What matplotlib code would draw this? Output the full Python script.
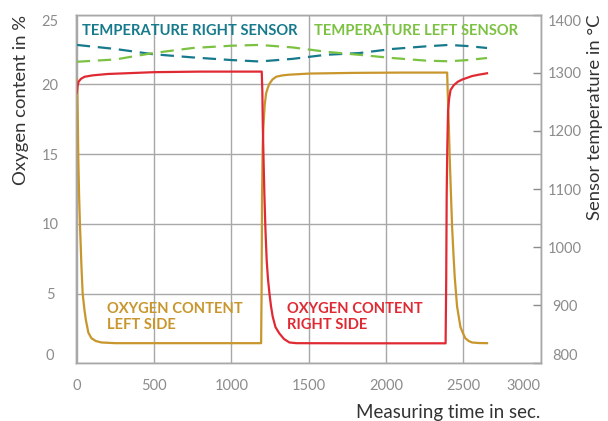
import matplotlib
matplotlib.use("Agg")
import matplotlib.pyplot as plt

plt.rcParams['font.family'] = ['Lato', 'DejaVu Sans']

# Oxygen content, left side (%)
o2_left_t = [0, 3, 6, 10, 15, 21, 30, 38, 50, 59, 75, 95, 124, 160, 250, 600, 900,
             1192, 1195, 1198, 1202, 1207, 1215, 1224, 1235, 1246, 1265, 1289, 1330,
             1375, 1504, 1800, 2100, 2395, 2400, 2406, 2412, 2427, 2436, 2444, 2459,
             2481, 2500, 2513, 2535, 2556, 2600, 2653]
o2_left = [20.4, 20.2, 18.0, 14.6, 12.0, 9.8, 7.0, 5.0, 3.8, 3.1, 2.2, 1.8, 1.6, 1.5,
           1.45, 1.45, 1.45, 1.45, 5.0, 12.0, 15.5, 17.0, 18.5, 19.35, 19.75, 20.05,
           20.35, 20.55, 20.65, 20.7, 20.78, 20.83, 20.85, 20.85, 19.0, 17.0, 14.6,
           9.8, 7.8, 6.2, 4.1, 2.6, 2.1, 1.8, 1.6, 1.5, 1.46, 1.45]

# Oxygen content, right side (%)
o2_right_t = [0, 5, 12, 27, 50, 102, 200, 317, 500, 800, 1196, 1200, 1203, 1208, 1213,
              1220, 1228, 1236, 1246, 1256, 1267, 1285, 1310, 1340, 1375, 1420, 1800,
              2385, 2389, 2392, 2396, 2401, 2408, 2417, 2438, 2465, 2492, 2556, 2600,
              2653]
o2_right = [19.4, 19.9, 20.2, 20.4, 20.55, 20.65, 20.75, 20.8, 20.88, 20.92, 20.92,
            19.5, 17.0, 14.5, 12.2, 9.6, 7.4, 6.1, 5.0, 4.1, 3.35, 2.6, 2.15, 1.75,
            1.5, 1.45, 1.44, 1.44, 6.0, 12.0, 15.5, 18.15, 19.0, 19.6, 19.95, 20.2,
            20.35, 20.6, 20.7, 20.8]

# Sensor temperatures (°C)
temp_t = [0, 250, 493, 750, 998, 1181, 1395, 1611, 1826, 2039, 2256, 2406, 2530, 2653]
temp_right = [1348, 1341, 1332, 1326.5, 1322, 1319.5, 1324, 1331, 1334, 1341, 1345.5,
              1348, 1346, 1342.7]
temp_left = [1319, 1323, 1334, 1342.7, 1346.6, 1348, 1343.7, 1336.3, 1331, 1325.5,
             1321, 1319.8, 1322, 1325.5]

x_ticks = [0, 500, 1000, 1500, 2000, 2500, 3000]
o2_ticks = [0, 5, 10, 15, 20, 25]
temp_ticks = [800, 900, 1000, 1100, 1200, 1300, 1400]

C_GOLD = '#c8962c'
C_RED = '#e02a33'
C_TEAL = '#167a8c'
C_GREEN = '#7cc242'
C_GRID = '#a8a8a8'
C_TICK = '#8c8c8c'
C_LABEL = '#333333'

fig = plt.figure(figsize=(6.08, 4.21), dpi=100)
ax = fig.add_axes([75.7 / 608, 1 - 363.4 / 421, 465.0 / 608, 348.7 / 421])
ax2 = ax.twinx()

ax.set_xlim(-7, 2993)
ax.set_ylim(0, 25)
ax2.set_ylim(800, 1400)

# grid
ax.set_xticks(x_ticks)
ax.set_yticks(o2_ticks)
ax.grid(True, color=C_GRID, linewidth=1.0)
ax.set_axisbelow(True)
for a in (ax, ax2):
    for s in a.spines.values():
        s.set_color(C_GRID)
        s.set_linewidth(1.0)

# oxygen curves
ax.plot(o2_left_t, o2_left, color=C_GOLD, lw=1.6, solid_joinstyle='round', zorder=3)
ax.plot(o2_right_t, o2_right, color=C_RED, lw=1.6, solid_joinstyle='round', zorder=3)

# temperature curves
ax2.plot(temp_t, temp_right, color=C_TEAL, lw=1.6, dashes=(6, 3.5))
ax2.plot(temp_t, temp_left, color=C_GREEN, lw=1.6, dashes=(6, 3.5))

# tick styling
ax.tick_params(axis='x', length=0, pad=11, labelsize=10.5, labelcolor=C_TICK)
ax.tick_params(axis='y', length=0, pad=18.5, labelsize=10.5, labelcolor=C_TICK)
ax2.set_yticks(temp_ticks)
ax2.tick_params(axis='y', direction='in', length=6, width=1, color=C_TICK,
                pad=17.5, labelsize=10.5, labelcolor=C_TICK)

ax.set_xticklabels([str(v) for v in x_ticks])
xl = ax.get_xticklabels()
xl[-1].set_ha('right')

ax.set_yticklabels([str(v) for v in o2_ticks])
for t in ax.get_yticklabels():
    t.set_ha('center')
ax.get_yticklabels()[0].set_va('bottom')
ax.get_yticklabels()[-1].set_va('top')

ax2.set_yticklabels([str(v) for v in temp_ticks])
for t in ax2.get_yticklabels():
    t.set_ha('center')
ax2.get_yticklabels()[0].set_va('bottom')
ax2.get_yticklabels()[-1].set_va('top')

# axis titles
ax.set_xlabel('Measuring time in sec.', loc='right', fontsize=13.5, color=C_LABEL)
ax.xaxis.set_label_coords(1.0, -0.115)
ax.set_ylabel('Oxygen content in %', loc='top', fontsize=13.3, color=C_LABEL)
ax.yaxis.set_label_coords(-0.1, 1.0)
ax2.set_ylabel('Sensor temperature in °C', loc='top', fontsize=13.3, color=C_LABEL)
ax2.yaxis.set_label_coords(1.1, 1.0)

# series labels
bold = dict(fontsize=10.6, fontweight='bold', va='center', ha='left')
ax.text(34, 23.85, 'TEMPERATURE RIGHT SENSOR', color=C_TEAL, **bold)
ax.text(1531, 23.85, 'TEMPERATURE LEFT SENSOR', color=C_GREEN, **bold)
ax.text(193, 3.35, 'OXYGEN CONTENT\nLEFT SIDE', color=C_GOLD, linespacing=1.2, **bold)
ax.text(1360, 3.35, 'OXYGEN CONTENT\nRIGHT SIDE', color=C_RED, linespacing=1.2, **bold)

fig.savefig('out.png', dpi=100)
